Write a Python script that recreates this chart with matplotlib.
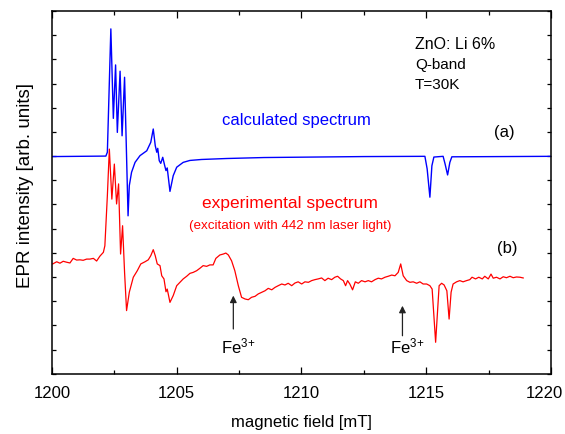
import numpy as np
import matplotlib
matplotlib.use('Agg')
import matplotlib.pyplot as plt
from matplotlib.ticker import MultipleLocator, NullFormatter, FuncFormatter

# --- DADOS ---
# espectro calculado (a): campo [mT] e intensidade [u.a.]
campo_calc = [1200.00, 1202.16, 1202.22, 1202.36, 1202.46, 1202.55, 1202.62,
              1202.73, 1202.81, 1202.91, 1203.05, 1203.10, 1203.19, 1203.33,
              1203.53, 1203.80, 1203.96, 1204.06, 1204.14, 1204.20, 1204.24,
              1204.30, 1204.36, 1204.44, 1204.52, 1204.57, 1204.62, 1204.73,
              1204.86, 1205.00, 1205.26, 1205.53, 1206.00, 1207.00, 1208.50,
              1210.50, 1212.50, 1214.95, 1215.04, 1215.15, 1215.23, 1215.31,
              1215.68, 1215.76, 1215.86, 1215.95, 1216.03, 1220.00]
inten_calc = [8.98, 9.00, 9.16, 14.26, 10.56, 12.77, 9.98,
              12.51, 9.84, 12.26, 6.53, 7.78, 8.33, 8.74,
              9.02, 9.22, 9.57, 10.12, 9.43, 9.16, 9.32,
              8.81, 8.70, 8.95, 8.60, 8.40, 8.51, 7.54,
              8.19, 8.54, 8.74, 8.82, 8.86, 8.90, 8.94,
              8.96, 8.98, 8.99, 8.47, 7.30, 8.60, 8.96,
              8.99, 8.67, 8.22, 8.74, 8.97, 8.99]

# espectro experimental (b)
campo_exp = [1200.03, 1200.19, 1200.32, 1200.45, 1200.59, 1200.72, 1200.85, 1200.99,
             1201.12, 1201.25, 1201.39, 1201.52, 1201.66, 1201.79, 1201.92, 1202.06,
             1202.12, 1202.22, 1202.30, 1202.40, 1202.50, 1202.59, 1202.67, 1202.75,
             1202.83, 1202.91, 1202.99, 1203.10, 1203.26, 1203.42, 1203.56, 1203.73,
             1203.86, 1203.96, 1204.06, 1204.14, 1204.22, 1204.33, 1204.40, 1204.49,
             1204.57, 1204.62, 1204.73, 1204.86, 1205.00, 1205.13, 1205.26, 1205.40,
             1205.53, 1205.66, 1205.80, 1205.93, 1206.06, 1206.20, 1206.33, 1206.46,
             1206.57, 1206.73, 1206.87, 1206.97, 1207.07, 1207.20, 1207.33, 1207.47,
             1207.60, 1207.74, 1207.87, 1208.00, 1208.14, 1208.27, 1208.41, 1208.54,
             1208.67, 1208.81, 1208.94, 1209.07, 1209.21, 1209.34, 1209.47, 1209.61,
             1209.74, 1209.87, 1210.01, 1210.14, 1210.28, 1210.41, 1210.54, 1210.67,
             1210.81, 1210.94, 1211.07, 1211.21, 1211.34, 1211.45, 1211.57, 1211.68,
             1211.77, 1211.85, 1211.94, 1212.05, 1212.16, 1212.28, 1212.41, 1212.55,
             1212.68, 1212.81, 1212.95, 1213.08, 1213.21, 1213.35, 1213.48, 1213.62,
             1213.75, 1213.88, 1213.98, 1214.08, 1214.22, 1214.35, 1214.48, 1214.62,
             1214.75, 1214.88, 1215.02, 1215.15, 1215.24, 1215.31, 1215.38, 1215.46,
             1215.52, 1215.62, 1215.72, 1215.83, 1215.92, 1216.00, 1216.08, 1216.22,
             1216.35, 1216.48, 1216.62, 1216.75, 1216.84, 1216.98, 1217.11, 1217.25,
             1217.35, 1217.49, 1217.60, 1217.69, 1217.82, 1217.96, 1218.09, 1218.22,
             1218.36, 1218.49, 1218.62, 1218.76, 1218.89]
inten_exp = [4.54, 4.63, 4.57, 4.65, 4.61, 4.58, 4.77, 4.70,
             4.71, 4.69, 4.74, 4.74, 4.77, 4.66, 4.86, 5.02,
             5.29, 7.36, 9.29, 7.22, 8.67, 7.02, 7.85, 4.95,
             6.12, 4.19, 2.61, 3.37, 3.99, 4.26, 4.54, 4.63,
             4.71, 4.88, 5.13, 4.88, 4.54, 4.47, 4.05, 3.92,
             3.39, 3.50, 2.95, 3.23, 3.64, 3.78, 3.92, 4.03,
             4.15, 4.19, 4.26, 4.36, 4.47, 4.44, 4.50, 4.50,
             4.77, 4.91, 4.95, 4.99, 4.91, 4.67, 4.26, 3.64,
             3.16, 3.09, 3.06, 3.16, 3.20, 3.30, 3.37, 3.43,
             3.53, 3.47, 3.57, 3.64, 3.71, 3.67, 3.74, 3.64,
             3.75, 3.80, 3.71, 3.80, 3.78, 3.85, 3.89, 3.92,
             3.96, 3.85, 3.95, 3.89, 3.99, 4.03, 3.92, 3.85,
             3.64, 3.85, 3.71, 3.47, 3.80, 3.74, 3.85, 3.80,
             3.85, 3.80, 3.89, 3.95, 3.92, 3.99, 4.03, 4.08,
             4.05, 4.19, 4.54, 4.05, 3.85, 3.78, 3.80, 3.74,
             3.80, 3.71, 3.71, 3.64, 3.50, 2.40, 1.30, 2.68,
             3.64, 3.74, 3.67, 3.43, 2.26, 3.37, 3.71, 3.80,
             3.85, 3.80, 3.85, 3.89, 3.99, 3.92, 3.99, 3.92,
             4.03, 3.92, 4.12, 3.95, 3.99, 3.92, 4.01, 3.97,
             4.03, 3.97, 4.00, 3.99, 3.96]

# setas Fe3+: posicao [mT], ponta e cauda [u.a.]
seta_campo = [1207.27, 1214.05]
seta_ponta = [3.23, 2.81]
seta_cauda = [1.85, 1.57]

CAMPO_MIN, CAMPO_MAX = 1200, 1220

AZUL = '#0000ff'
VERMELHO = '#ff0000'

plt.rcParams['font.family'] = ['Liberation Sans', 'DejaVu Sans']
plt.rcParams['mathtext.default'] = 'regular'


def rotulo_campo(valor, pos):
    # o ultimo rotulo e desenhado a parte, um pouco para dentro da figura
    if abs(valor - CAMPO_MAX) < 1e-6:
        return ''
    return f'{valor:.0f}'


def plotar_espectros():
    fig = plt.figure(figsize=(5.65, 4.35), dpi=100)
    ax = fig.add_axes([0.092, 0.1386, 0.883, 0.8338])

    ax.plot(campo_calc, inten_calc, color=AZUL, lw=1.0)
    ax.plot(campo_exp, inten_exp, color=VERMELHO, lw=0.9)

    # setas e rotulos Fe3+
    for x, y1, y0 in zip(seta_campo, seta_ponta, seta_cauda):
        ax.annotate('', xy=(x, y1), xytext=(x, y0),
                    arrowprops=dict(arrowstyle='-|>', color='#222222', lw=0.9,
                                    mutation_scale=10, shrinkA=0, shrinkB=0))
        ax.text(x + 0.18, 1.15, 'Fe$^{3{+}}$', ha='center', va='center', fontsize=12)

    # textos
    ax.text(1209.8, 10.5, 'calculated spectrum', color=AZUL, ha='center', va='center', fontsize=12)
    ax.text(1209.55, 7.06, 'experimental spectrum', color=VERMELHO, ha='center', va='center', fontsize=12.5)
    ax.text(1209.55, 6.15, '(excitation with 442 nm laser light)', color=VERMELHO,
            ha='center', va='center', fontsize=9.6)
    ax.text(1214.55, 13.64, 'ZnO: Li 6%', ha='left', va='center', fontsize=11.5)
    ax.text(1214.55, 12.81, 'Q-band', ha='left', va='center', fontsize=11)
    ax.text(1214.55, 11.98, 'T=30K', ha='left', va='center', fontsize=11)
    ax.text(1218.15, 10.0, '(a)', ha='center', va='center', fontsize=12)
    ax.text(1218.25, 5.23, '(b)', ha='center', va='center', fontsize=12)

    # eixos
    ax.set_xlim(CAMPO_MIN, CAMPO_MAX)
    ax.set_ylim(0, 15)
    ax.xaxis.set_major_locator(MultipleLocator(5))
    ax.xaxis.set_minor_locator(MultipleLocator(2.5))
    ax.xaxis.set_major_formatter(FuncFormatter(rotulo_campo))
    ax.yaxis.set_major_locator(MultipleLocator(1))
    ax.yaxis.set_major_formatter(NullFormatter())
    ax.tick_params(which='both', direction='in', top=True, right=True, width=0.9)
    ax.tick_params(which='major', length=5, labelsize=12, pad=8)
    ax.tick_params(which='minor', length=3)
    ax.tick_params(axis='y', which='major', length=3)
    for lado in ax.spines.values():
        lado.set_linewidth(1.1)

    ax.annotate(f'{CAMPO_MAX}', xy=(CAMPO_MAX, 0), xycoords='data',
                xytext=(-5, -8), textcoords='offset points',
                ha='center', va='top', fontsize=12, annotation_clip=False)

    ax.set_xlabel('magnetic field [mT]', fontsize=12)
    ax.set_ylabel('EPR intensity [arb. units]', fontsize=13.5)
    ax.xaxis.set_label_coords(0.5, -0.112)
    ax.yaxis.set_label_coords(-0.036, 0.523)

    fig.savefig('out.png', dpi=100)


if __name__ == "__main__":
    plotar_espectros()
